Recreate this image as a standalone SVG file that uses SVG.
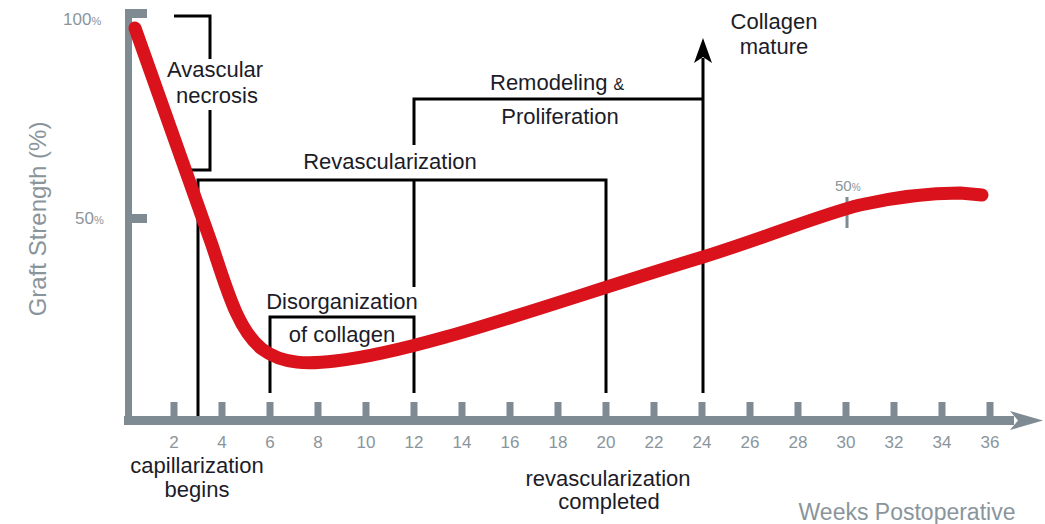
<svg xmlns="http://www.w3.org/2000/svg" width="1045" height="524" viewBox="0 0 1045 524">
<style>
.lbl{font-family:"Liberation Sans",Arial,sans-serif;font-size:22px;fill:#1c1c28;text-anchor:middle}
.num{font-family:"Liberation Sans",Arial,sans-serif;font-size:17px;fill:#8a959b;text-anchor:middle}
.gtxt{font-family:"Liberation Sans",Arial,sans-serif;fill:#8a959b}
.axis{fill:#7f8b92}
.br{fill:none;stroke:#000;stroke-width:3;stroke-linecap:butt;stroke-linejoin:miter}
.curve{fill:none;stroke:#d9121b;stroke-width:13;stroke-linecap:round;stroke-linejoin:round}
</style>
<rect width="1045" height="524" fill="#fff"/>
<g id="axes">
  <rect class="axis" x="125" y="9" width="7" height="416"/>
  <rect class="axis" x="125" y="9" width="22" height="9"/>
  <rect class="axis" x="131" y="214" width="16" height="9"/>
  <rect class="axis" x="124" y="416" width="890" height="9"/>
  <polygon class="axis" points="1010,411 1043,420.5 1010,430 1018,420.5"/>
  <g id="xticks">
    <rect class="axis" x="170.5" y="402" width="7" height="15"/>
    <rect class="axis" x="218.5" y="402" width="7" height="15"/>
    <rect class="axis" x="266.5" y="402" width="7" height="15"/>
    <rect class="axis" x="314.5" y="402" width="7" height="15"/>
    <rect class="axis" x="362.5" y="402" width="7" height="15"/>
    <rect class="axis" x="410.5" y="402" width="7" height="15"/>
    <rect class="axis" x="458.5" y="402" width="7" height="15"/>
    <rect class="axis" x="506.5" y="402" width="7" height="15"/>
    <rect class="axis" x="554.5" y="402" width="7" height="15"/>
    <rect class="axis" x="602.5" y="402" width="7" height="15"/>
    <rect class="axis" x="650.5" y="402" width="7" height="15"/>
    <rect class="axis" x="698.5" y="402" width="7" height="15"/>
    <rect class="axis" x="746.5" y="402" width="7" height="15"/>
    <rect class="axis" x="794.5" y="402" width="7" height="15"/>
    <rect class="axis" x="842.5" y="402" width="7" height="15"/>
    <rect class="axis" x="890.5" y="402" width="7" height="15"/>
    <rect class="axis" x="938.5" y="402" width="7" height="15"/>
    <rect class="axis" x="986.5" y="402" width="7" height="15"/>
  </g>
  <g id="xlabels">
    <text class="num" x="174" y="448">2</text>
    <text class="num" x="222" y="448">4</text>
    <text class="num" x="270" y="448">6</text>
    <text class="num" x="318" y="448">8</text>
    <text class="num" x="366" y="448">10</text>
    <text class="num" x="414" y="448">12</text>
    <text class="num" x="462" y="448">14</text>
    <text class="num" x="510" y="448">16</text>
    <text class="num" x="558" y="448">18</text>
    <text class="num" x="606" y="448">20</text>
    <text class="num" x="654" y="448">22</text>
    <text class="num" x="702" y="448">24</text>
    <text class="num" x="750" y="448">26</text>
    <text class="num" x="798" y="448">28</text>
    <text class="num" x="846" y="448">30</text>
    <text class="num" x="894" y="448">32</text>
    <text class="num" x="942" y="448">34</text>
    <text class="num" x="990" y="448">36</text>
  </g>
  <text class="gtxt" x="63" y="25" font-size="17">100<tspan font-size="11">%</tspan></text>
  <text class="gtxt" x="75" y="224" font-size="17">50<tspan font-size="11">%</tspan></text>
  <text class="gtxt" font-size="24" text-anchor="middle" transform="translate(46,219) rotate(-90)">Graft Strength (%)</text>
  <text class="gtxt" font-size="23" text-anchor="middle" x="907" y="520">Weeks Postoperative</text>
</g>
<g id="connectors">
  <path class="br" d="M174,16 H210 V59 M210,110 V170 H184"/>
  <path class="br" d="M198,416 V180 H606 V393"/>
  <path class="br" d="M414,180 V287"/>
  <path class="br" d="M414,145 V99 H703"/>
  <path class="br" d="M270,393 V317 H414 V393"/>
  <path class="br" d="M703,393 V58"/>
  <polygon points="703,38 712,63 703,57 694,63" fill="#000"/>
</g>
<g id="marker50">
  <rect class="axis" x="845.5" y="197" width="3" height="31"/>
  <text class="gtxt" x="835" y="191" font-size="15">50<tspan font-size="10">%</tspan></text>
</g>
<g id="strength-curve">
  <path class="curve" d="M135,28 L212,245 C227,290 238,330 262,349 C283,365 310,364 335,361 C420,352 560,300 703,257 C770,236 820,215 860,205 C900,196 930,193 960,193 L982,195"/>
</g>
<g id="node-avascular">
  <text class="lbl" x="215" y="77">Avascular</text>
  <text class="lbl" x="217" y="103">necrosis</text>
</g>
<g id="node-remodeling">
  <text class="lbl" x="490" y="90" text-anchor="start" style="text-anchor:start">Remodeling <tspan font-size="16">&amp;</tspan></text>
  <text class="lbl" x="560" y="124">Proliferation</text>
</g>
<g id="node-revascularization">
  <text class="lbl" x="390" y="169">Revascularization</text>
</g>
<g id="node-disorganization">
  <text class="lbl" x="342" y="309">Disorganization</text>
  <text class="lbl" x="342" y="342">of collagen</text>
</g>
<g id="node-collagen-mature">
  <text class="lbl" x="774" y="29">Collagen</text>
  <text class="lbl" x="774" y="54">mature</text>
</g>
<g id="node-capillarization">
  <text class="lbl" x="197" y="473">capillarization</text>
  <text class="lbl" x="197" y="497">begins</text>
</g>
<g id="node-revasc-completed">
  <text class="lbl" x="608" y="486">revascularization</text>
  <text class="lbl" x="609" y="509">completed</text>
</g>
</svg>
